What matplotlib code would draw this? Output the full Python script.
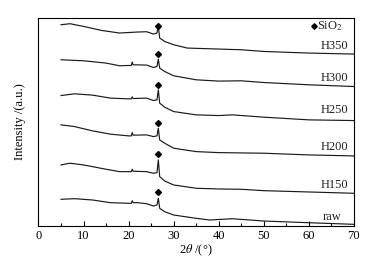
import matplotlib
matplotlib.use("Agg")
import matplotlib.pyplot as plt
from matplotlib.ticker import MultipleLocator

plt.rcParams['font.family'] = ['Liberation Serif', 'DejaVu Serif']
plt.rcParams['mathtext.fontset'] = 'stix'

x_h350 = [5, 7, 10, 14, 18, 22, 24, 25.5, 26.3, 26.6, 26.9, 28, 30, 33, 40, 45, 50, 60, 70]
y_h350 = [201, 202, 199.3, 195.3, 192.7, 193.7, 194, 191.7, 192.7, 199.3, 187.7, 184.3, 181, 177.7, 176.7, 176, 174.3, 172.7, 171.7]

x_h300 = [5, 10, 15, 18, 20, 20.6, 20.8, 21, 24, 25.5, 26.3, 26.6, 26.9, 28, 30, 35, 40, 45, 50, 60, 70]
y_h300 = [166, 165, 162.7, 160, 160.3, 160.3, 163.7, 161, 160.7, 158.3, 159.3, 166.7, 157.7, 154.3, 150, 146, 144.7, 145, 143.3, 141, 139.3]

x_h250 = [5, 8, 12, 16, 20, 20.6, 20.8, 21, 24, 25.5, 26.3, 26.6, 26.9, 28, 30, 35, 40, 43, 50, 60, 70]
y_h250 = [130.3, 132, 130.7, 127.7, 127, 127, 129, 127.3, 127.7, 125.3, 126, 136, 122.7, 118.7, 114.3, 111, 110.3, 111, 108.7, 106, 105.3]

x_h200 = [5, 8, 12, 16, 20, 20.6, 20.8, 21, 24, 25.5, 26.3, 26.6, 26.9, 28, 30, 35, 40, 50, 60, 70]
y_h200 = [101, 99.3, 95, 91.7, 90, 90, 93.3, 90.7, 91, 89.3, 90, 97.7, 86, 82.7, 77.7, 74.3, 73.3, 72.7, 71, 70]

x_h150 = [5, 7, 10, 15, 18, 20, 20.6, 20.8, 21, 24, 25.5, 26.3, 26.6, 26.9, 28, 30, 35, 40, 45, 50, 60, 70]
y_h150 = [61, 62.7, 61, 56.7, 54.3, 54.3, 54.3, 56.7, 54.7, 54.3, 52.7, 53.3, 66, 49.3, 45, 41, 37.7, 37, 36.7, 35.3, 34, 32.7]

x_raw = [5, 8, 12, 16, 20, 20.6, 20.8, 21, 22, 24, 25.5, 26.3, 26.6, 26.9, 28, 30, 35, 38, 43, 50, 60, 70]
y_raw = [26.7, 27.3, 26, 23.3, 22.7, 22.7, 25.3, 23.3, 23.3, 22.3, 20, 21, 27.7, 17.7, 14.3, 11, 7.7, 6, 7.3, 5, 3.3, 1.7]

curve_labels = ['H350', 'H300', 'H250', 'H200', 'H150', 'raw']
label_y = [179.3, 147.7, 116, 79.3, 41, 9.3]
marker_x = 26.6
marker_y = [200, 171.7, 141, 103.3, 71.7, 33.7]

xs = [x_h350, x_h300, x_h250, x_h200, x_h150, x_raw]
ys = [y_h350, y_h300, y_h250, y_h200, y_h150, y_raw]

fig = plt.figure(figsize=(3.69, 2.61), dpi=100)
ax = fig.add_axes([0.1043, 0.134, 0.8547, 0.797])

for xv, yv in zip(xs, ys):
    ax.plot(xv, yv, color='#1a1a1a', lw=0.85)

ax.plot([marker_x] * len(marker_y), marker_y, linestyle='none', marker='D',
        markersize=3.0, color='black')

for lab, ly in zip(curve_labels, label_y):
    xr = 67.3 if lab == 'raw' else 68.7
    ax.text(xr, ly, lab, ha='right', va='center', fontsize=9, color='#222')

ax.plot([61.2], [199.3], linestyle='none', marker='D', markersize=2.8, color='black')
ax.text(61.9, 199.3, r'SiO$_2$', ha='left', va='center', fontsize=9, color='#222')

ax.set_xlim(0, 70)
ax.set_ylim(0, 207.7)
ax.xaxis.set_major_locator(MultipleLocator(10))
ax.xaxis.set_minor_locator(MultipleLocator(5))
ax.tick_params(axis='x', which='major', direction='in', length=3.5, width=0.8, labelsize=9, pad=3)
ax.tick_params(axis='x', which='minor', direction='in', length=2.5, width=0.8)
ax.set_yticks([])
for s in ax.spines.values():
    s.set_linewidth(0.8)

ax.set_xlabel(r'2$\theta$ /(°)', fontsize=9, labelpad=0)
ax.set_ylabel('Intensity /(a.u.)', fontsize=9, labelpad=9)

fig.savefig('out.png', dpi=100)
